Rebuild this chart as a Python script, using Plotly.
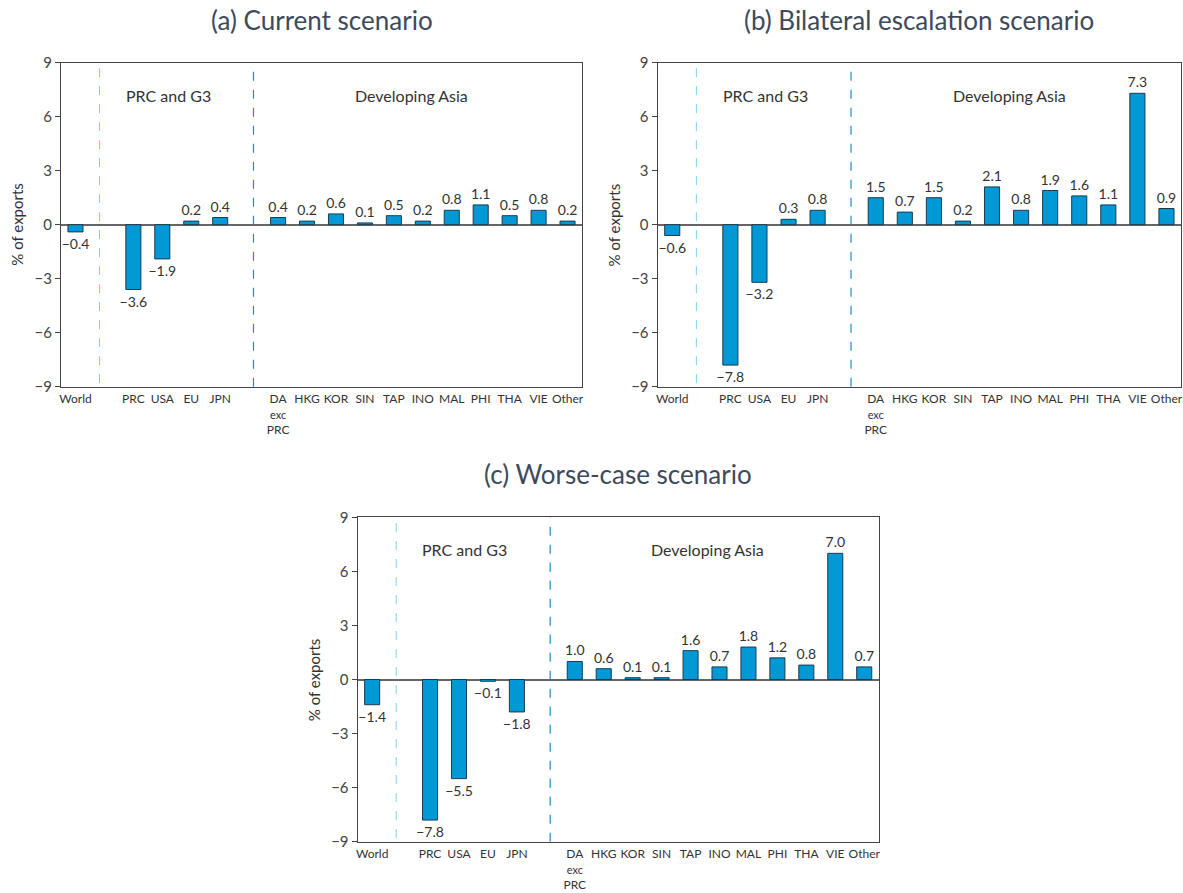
import plotly.graph_objects as go

# ---------------- data ----------------
group_world = ["World"]
group_g3 = ["PRC", "USA", "EU", "JPN"]
group_asia = ["DA exc PRC", "HKG", "KOR", "SIN", "TAP", "INO", "MAL", "PHI", "THA", "VIE", "Other"]

tick_labels = ["World", "PRC", "USA", "EU", "JPN",
               "DA<br><span style='font-size:11px'>exc</span><br>PRC",
               "HKG", "KOR", "SIN", "TAP", "INO", "MAL", "PHI", "THA", "VIE", "Other"]

current = [-0.4, -3.6, -1.9, 0.2, 0.4, 0.4, 0.2, 0.6, 0.1, 0.5, 0.2, 0.8, 1.1, 0.5, 0.8, 0.2]
bilateral = [-0.6, -7.8, -3.2, 0.3, 0.8, 1.5, 0.7, 1.5, 0.2, 2.1, 0.8, 1.9, 1.6, 1.1, 7.3, 0.9]
worse = [-1.4, -7.8, -5.5, -0.1, -1.8, 1.0, 0.6, 0.1, 0.1, 1.6, 0.7, 1.8, 1.2, 0.8, 7.0, 0.7]

titles = ["(a) Current scenario", "(b) Bilateral escalation scenario", "(c) Worse-case scenario"]
y_ticks = [-9, -6, -3, 0, 3, 6, 9]

# positions: one empty slot between groups
positions = []
p = 0
for g in [group_world, group_g3, group_asia]:
    for _ in g:
        positions.append(p)
        p += 1
    p += 1
sep1 = (positions[0] + positions[1]) / 2 - 0.17
sep2 = (positions[4] + positions[5]) / 2 + 0.15

W, H = 1183, 893
FONT = "Lato"
BAR = "#0099d6"
EDGE = "#1d3a4c"
TXT = "#333333"

panels = [
    dict(data=current, x0=61, x1=582, y0=62.7, y1=386.7),
    dict(data=bilateral, x0=657.7, x1=1181, y0=62.7, y1=386.7),
    dict(data=worse, x0=357.7, x1=878.7, y0=517.3, y1=841.7),
]

def fmt(v):
    s = f"{abs(v):.1f}"
    return ("\u2212" + s) if v < 0 else s

fig = go.Figure()
annotations = []
shapes = []
for i, pn in enumerate(panels):
    n = "" if i == 0 else str(i + 1)
    xa, ya = "x" + n, "y" + n
    fig.add_trace(go.Bar(
        x=positions, y=pn["data"], xaxis=xa, yaxis=ya,
        width=0.52, marker=dict(color=BAR, line=dict(color=EDGE, width=1)),
        text=[fmt(v) for v in pn["data"]], textposition="outside",
        constraintext="none", cliponaxis=False,
        textfont=dict(family=FONT, size=14, color=TXT),
        showlegend=False, hoverinfo="skip",
    ))
    xdom = [pn["x0"] / W, pn["x1"] / W]
    ydom = [1 - pn["y1"] / H, 1 - pn["y0"] / H]
    fig.layout["xaxis" + n] = dict(
        domain=xdom, anchor=ya, range=[-0.5, 17.5], automargin=False,
        tickvals=positions, ticktext=tick_labels, ticks="", ticklabelstandoff=1,
        tickfont=dict(family=FONT, size=12, color=TXT), tickangle=0,
        showline=True, linecolor="#444444", linewidth=1.3, mirror=True,
        showgrid=False, zeroline=False, fixedrange=True,
    )
    fig.layout["yaxis" + n] = dict(
        domain=ydom, anchor=xa, range=[-9, 9], automargin=False,
        tickvals=y_ticks, ticktext=[fmt(t).replace(".0", "") for t in y_ticks],
        ticks="outside", ticklen=5, tickcolor="#444444",
        tickfont=dict(family=FONT, size=15, color="#444444"),
        showline=True, linecolor="#444444", linewidth=1.3, mirror=True,
        showgrid=False, zeroline=True, zerolinecolor="#666666", zerolinewidth=1.5,
        fixedrange=True,
    )
    # separators
    shapes.append(dict(type="line", xref=xa, yref=ya, x0=sep1, x1=sep1, y0=-8.8, y1=9,
                       line=dict(color="#7fd0f0", width=1, dash="dash"), layer="below"))
    shapes.append(dict(type="line", xref=xa, yref=ya, x0=sep2, x1=sep2, y0=-9, y1=9,
                       line=dict(color="#1a8ccc", width=1.2, dash="dash"), layer="below"))
    # group labels
    annotations.append(dict(xref=xa, yref=ya, x=3.2, y=7.2, text="PRC and G3", showarrow=False,
                            font=dict(family=FONT, size=16, color=TXT)))
    annotations.append(dict(xref=xa, yref=ya, x=11.6, y=7.2, text="Developing Asia", showarrow=False,
                            font=dict(family=FONT, size=16, color=TXT)))
    # y title
    annotations.append(dict(xref="paper", yref="paper", x=(pn["x0"] - 44) / W,
                            y=1 - (pn["y0"] + pn["y1"]) / 2 / H, text="% of exports",
                            textangle=-90, showarrow=False, xanchor="center", yanchor="middle",
                            font=dict(family=FONT, size=15, color=TXT)))
    # panel title
    annotations.append(dict(xref="paper", yref="paper", x=(pn["x0"] + pn["x1"]) / 2 / W,
                            y=1 - (pn["y0"] - 43) / H, text=titles[i], showarrow=False,
                            xanchor="center", yanchor="middle",
                            font=dict(family=FONT, size=26, color="#3d4a5c")))

fig.update_layout(
    width=W, height=H, autosize=False,
    margin=dict(l=0, r=0, t=0, b=0),
    paper_bgcolor="white", plot_bgcolor="white",
    annotations=annotations, shapes=shapes, bargap=0.48,
)
fig.write_html("out.html", config={"displayModeBar": False},
               post_script="document.body.style.margin='0';document.body.style.overflow='hidden';")
